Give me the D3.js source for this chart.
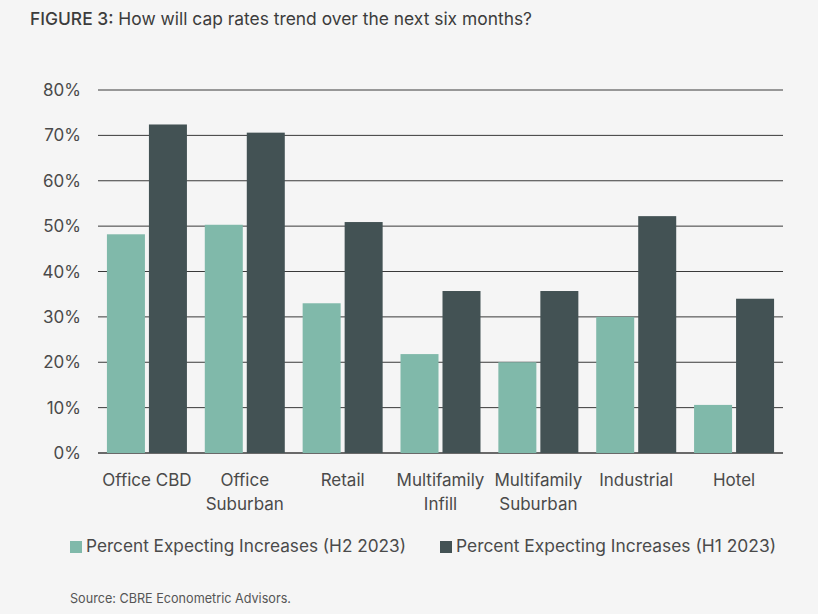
<!DOCTYPE html>
<html lang="en">
<head>
<meta charset="utf-8">
<script src="https://d3js.org/d3.v7.min.js"></script>
<style>
  body { margin: 0; background: #f5f5f5; }
  svg { display: block; font-family: Inter, "Open Sans", sans-serif; }
</style>
</head>
<body>
<script>

// data
const categories = [
  ["Office CBD"],
  ["Office", "Suburban"],
  ["Retail"],
  ["Multifamily", "Infill"],
  ["Multifamily", "Suburban"],
  ["Industrial"],
  ["Hotel"]
];
const seriesNames = ["Percent Expecting Increases (H2 2023)", "Percent Expecting Increases (H1 2023)"];
const h2_2023 = [48.2, 50.3, 33.0, 21.8, 20.0, 30.0, 10.6];
const h1_2023 = [72.4, 70.6, 50.9, 35.7, 35.7, 52.2, 34.0];
const yTicks = [0, 10, 20, 30, 40, 50, 60, 70, 80];
const colors = ["#80b9aa", "#435254"];

const width = 818, height = 614;
const plotL = 98, plotR = 783, plotT = 90, plotB = 453;

const svg = d3.select("body").append("svg")
  .attr("width", width)
  .attr("height", height);

svg.append("rect").attr("width", width).attr("height", height).attr("fill", "#f5f5f5");

// title
const title = svg.append("text")
  .attr("x", 30).attr("y", 25)
  .attr("font-size", 17.5)
  .attr("fill", "#3c3c3c")
  .attr("textLength", 502)
  .attr("lengthAdjust", "spacingAndGlyphs");
title.append("tspan").attr("font-weight", 500).text("FIGURE 3:");
title.append("tspan").text(" How will cap rates trend over the next six months?");

const x = d3.scaleBand()
  .domain(d3.range(categories.length))
  .range([plotL, plotR])
  .paddingInner(0)
  .paddingOuter(0);

const y = d3.scaleLinear().domain([0, 80]).range([plotB, plotT]);

// gridlines
svg.append("g")
  .selectAll("line")
  .data(yTicks)
  .join("line")
  .attr("x1", plotL).attr("x2", plotR)
  .attr("y1", d => y(d)).attr("y2", d => y(d))
  .attr("stroke", "#3a3a3a")
  .attr("stroke-width", d => d == 0 ? 1.5 : 1);

// y tick labels
svg.append("g")
  .selectAll("text")
  .data(yTicks)
  .join("text")
  .attr("x", 81)
  .attr("y", d => y(d) + 6)
  .attr("text-anchor", "end")
  .attr("font-size", 17)
  .attr("fill", "#4a4a4a")
  .text(d => d + "%");

// bars
const barW = 38, gap = 4;
const groups = svg.append("g")
  .selectAll("g")
  .data(categories.map((c, i) => [h2_2023[i], h1_2023[i]]))
  .join("g")
  .attr("transform", (d, i) => "translate(" + (x(i) + x.bandwidth() / 2 - barW - gap / 2) + ",0)");

groups.selectAll("rect")
  .data(d => d)
  .join("rect")
  .attr("x", (d, j) => j * (barW + gap))
  .attr("y", d => y(d))
  .attr("width", barW)
  .attr("height", d => y(0) - y(d))
  .attr("fill", (d, j) => colors[j]);

// x labels
svg.append("g")
  .selectAll("text")
  .data(categories)
  .join("text")
  .attr("x", (d, i) => x(i) + x.bandwidth() / 2)
  .attr("y", 486)
  .attr("text-anchor", "middle")
  .attr("font-size", 17)
  .attr("fill", "#4a4a4a")
  .selectAll("tspan")
  .data(d => d)
  .join("tspan")
  .attr("x", function() { return this.parentNode.getAttribute("x"); })
  .attr("dy", (d, k) => k == 0 ? 0 : 24)
  .text(d => d);

// legend
const legendX = [70, 440];
const legend = svg.append("g")
  .selectAll("g")
  .data(seriesNames)
  .join("g")
  .attr("transform", (d, i) => "translate(" + legendX[i] + ",552)");

legend.append("rect")
  .attr("x", 0).attr("y", -11)
  .attr("width", 12).attr("height", 12)
  .attr("fill", (d, i) => colors[i]);

legend.append("text")
  .attr("x", 16).attr("y", 0)
  .attr("font-size", 17)
  .attr("fill", "#4a4a4a")
  .attr("textLength", 320)
  .attr("lengthAdjust", "spacingAndGlyphs")
  .text(d => d);

// source
svg.append("text")
  .attr("x", 70).attr("y", 603)
  .attr("font-size", 13.5)
  .attr("fill", "#555")
  .attr("textLength", 221)
  .attr("lengthAdjust", "spacingAndGlyphs")
  .text("Source: CBRE Econometric Advisors.");

</script>
</body>
</html>
